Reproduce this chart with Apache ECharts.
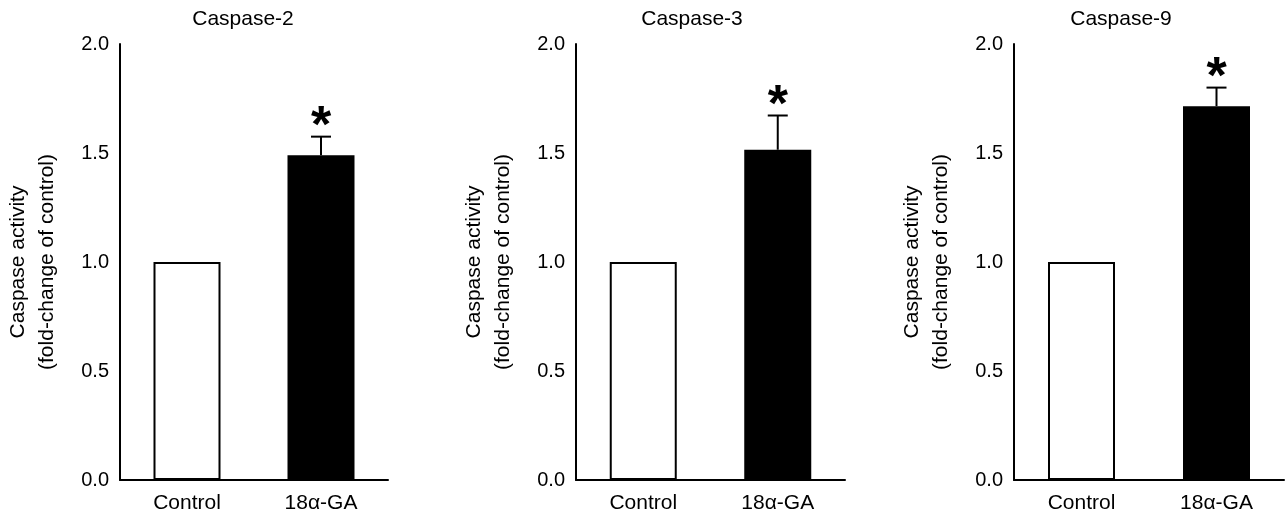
<!DOCTYPE html>
<html>
<head>
<meta charset="utf-8">
<script src="https://cdn.jsdelivr.net/npm/echarts@6/dist/echarts.min.js"></script>
<style>
  html, body { margin: 0; padding: 0; background: #fff; }
  #chart { width: 1285px; height: 516px; }
</style>
</head>
<body>
<div id="chart"></div>
<script>
var categories = ['Control', '18\u03b1-GA'];
var titles = ['Caspase-2', 'Caspase-3', 'Caspase-9'];

// mean activity (fold-change of control), one array per panel
var caspase2 = [1.0, 1.49];
var caspase3 = [1.0, 1.515];
var caspase9 = [1.0, 1.715];
// SD, control has none
var err2 = [0, 0.085];
var err3 = [0, 0.157];
var err9 = [0, 0.085];
// significance marks
var sig2 = ['', '*'];
var sig3 = ['', '*'];
var sig9 = ['', '*'];

var values = [caspase2, caspase3, caspase9];
var errors = [err2, err3, err9];
var sigs = [sig2, sig3, sig9];

var font = 'Liberation Sans, Arial, Helvetica, sans-serif';
var gridLeft = [120, 576, 1014];
var gridWidth = [268, 269, 270];
var titleX = [243, 692, 1121];

var myChart = echarts.init(document.getElementById('chart'));

var grid = [], xAxis = [], yAxis = [], title = [], series = [];

for (var i = 0; i < 3; i++) {
  grid.push({ left: gridLeft[i], width: gridWidth[i], top: 44, height: 436 });

  title.push({
    text: titles[i],
    left: titleX[i],
    top: 9,
    padding: 0,
    textAlign: 'center',
    textStyle: { fontFamily: font, fontSize: 21, fontWeight: 'normal', color: '#000' }
  });

  xAxis.push({
    type: 'category',
    gridIndex: i,
    data: categories,
    axisLine: { lineStyle: { color: '#000', width: 2 } },
    axisTick: { show: false },
    axisLabel: { color: '#000', fontFamily: font, fontSize: 21, margin: 13 }
  });

  yAxis.push({
    type: 'value',
    gridIndex: i,
    min: 0,
    max: 2,
    interval: 0.5,
    name: 'Caspase activity\n(fold-change of control)',
    nameLocation: 'middle',
    nameRotate: 90,
    nameGap: 58,
    nameTextStyle: { color: '#000', fontFamily: font, fontSize: 21, lineHeight: 29 },
    axisLine: { show: true, lineStyle: { color: '#000', width: 2 } },
    axisTick: { show: false },
    splitLine: { show: false },
    axisLabel: {
      color: '#000', fontFamily: font, fontSize: 20, margin: 11,
      formatter: function (v) { return v.toFixed(1); }
    }
  });

  series.push({
    type: 'bar',
    xAxisIndex: i,
    yAxisIndex: i,
    barWidth: 67,
    data: values[i].map(function (v, k) {
      return {
        value: v,
        itemStyle: { color: k === 0 ? '#fff' : '#000', borderColor: '#000', borderWidth: 2 }
      };
    })
  });

  series.push({
    type: 'custom',
    xAxisIndex: i,
    yAxisIndex: i,
    z: 5,
    data: values[i].map(function (v, k) { return [k, v, errors[i][k], k]; }),
    renderItem: (function (sig) {
      return function (params, api) {
        var idx = api.value(0), mean = api.value(1), e = api.value(2);
        var base = api.coord([idx, mean]);
        var top = api.coord([idx, mean + e]);
        var children = [];
        if (e > 0) {
          children.push({
            type: 'line',
            shape: { x1: base[0], y1: base[1], x2: top[0], y2: top[1] },
            style: { stroke: '#000', lineWidth: 2 }
          });
          children.push({
            type: 'line',
            shape: { x1: top[0] - 10, y1: top[1], x2: top[0] + 10, y2: top[1] },
            style: { stroke: '#000', lineWidth: 2 }
          });
        }
        var mark = sig[api.value(3)];
        if (mark) {
          children.push({
            type: 'text',
            x: top[0],
            y: top[1] + 17,
            style: {
              text: mark,
              fill: '#000',
              font: 'bold 52px ' + font,
              align: 'center',
              verticalAlign: 'bottom'
            }
          });
        }
        return { type: 'group', children: children };
      };
    })(sigs[i])
  });
}

myChart.setOption({
  backgroundColor: '#fff',
  animation: false,
  title: title,
  grid: grid,
  xAxis: xAxis,
  yAxis: yAxis,
  series: series
});
</script>
</body>
</html>
